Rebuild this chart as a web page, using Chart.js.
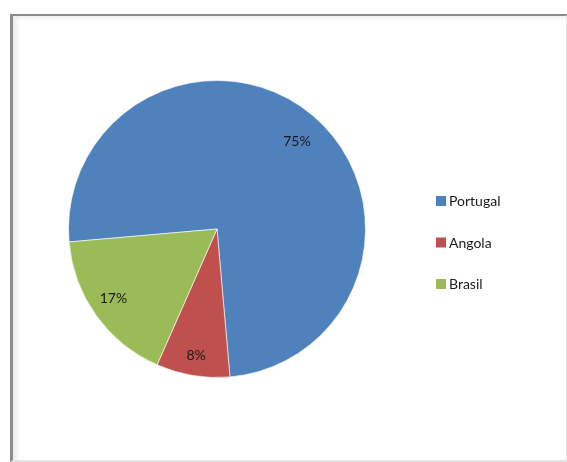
<!DOCTYPE html>
<html>
<head>
<meta charset="utf-8">
<script src="https://cdn.jsdelivr.net/npm/chart.js@4"></script>
<style>
  html, body { margin:0; padding:0; background:#fff; width:567px; height:462px; overflow:hidden; }
  #frame { position:absolute; left:10px; top:14px; width:553px; height:444px;
    border-top:2px solid #8c8c8c; border-left:3px solid #8c8c8c;
    border-right:2px solid #e4e4e4; border-bottom:2px solid #e4e4e4;
    box-shadow: inset 4px 2px 4px rgba(0,0,0,0.08); }
  #wrap { position:absolute; left:0; top:0; width:567px; height:462px; }
</style>
</head>
<body>
<div id="frame"></div>
<div id="wrap"><canvas id="c" width="567" height="462"></canvas></div>
<script>
const categories = ["Portugal", "Angola", "Brasil"];
const values = [75, 8, 17];
const labelsText = ["75%", "8%", "17%"];
const colors = ["#4F81BD", "#C0504D", "#9BBB59"];

const FONT = "Lato, 'Open Sans', sans-serif";

const pieLabels = {
  id: 'pieLabels',
  afterDatasetsDraw(chart) {
    const ctx = chart.ctx;
    const meta = chart.getDatasetMeta(0);
    ctx.save();
    ctx.font = "14px " + FONT;
    ctx.fillStyle = "#1a1a1a";
    ctx.textAlign = "center";
    ctx.textBaseline = "middle";
    const fr = [0.80, 0.86, 0.84];
    const da = [0.04, 0, 0.03];
    meta.data.forEach((arc, i) => {
      const p = arc.getProps(['x','y','startAngle','endAngle','outerRadius'], true);
      const mid = (p.startAngle + p.endAngle) / 2 + da[i];
      const r = p.outerRadius * fr[i];
      ctx.fillText(labelsText[i], p.x + Math.cos(mid) * r, p.y + Math.sin(mid) * r);
    });
    ctx.restore();
  }
};

const sideLegend = {
  id: 'sideLegend',
  afterDraw(chart) {
    const ctx = chart.ctx;
    ctx.save();
    ctx.font = "14px " + FONT;
    ctx.textBaseline = "middle";
    ctx.textAlign = "left";
    const x0 = 436, y0 = 201, step = 41.5;
    chart.data.labels.forEach((lab, i) => {
      const y = y0 + i * step;
      ctx.fillStyle = chart.data.datasets[0].backgroundColor[i];
      ctx.fillRect(x0, y - 5, 10, 10);
      ctx.fillStyle = "#1a1a1a";
      ctx.fillText(lab, x0 + 13, y + 0.5);
    });
    ctx.restore();
  }
};

new Chart(document.getElementById('c'), {
  type: 'pie',
  data: {
    labels: categories,
    datasets: [{
      data: values,
      backgroundColor: colors,
      borderColor: 'rgba(255,255,255,0.6)',
      borderWidth: 1
    }]
  },
  options: {
    responsive: false,
    animation: false,
    rotation: -95,
    layout: { padding: { left: 68, right: 201, top: 80, bottom: 84 } },
    plugins: { legend: { display: false }, tooltip: { enabled: false } }
  },
  plugins: [pieLabels, sideLegend]
});
</script>
</body>
</html>
